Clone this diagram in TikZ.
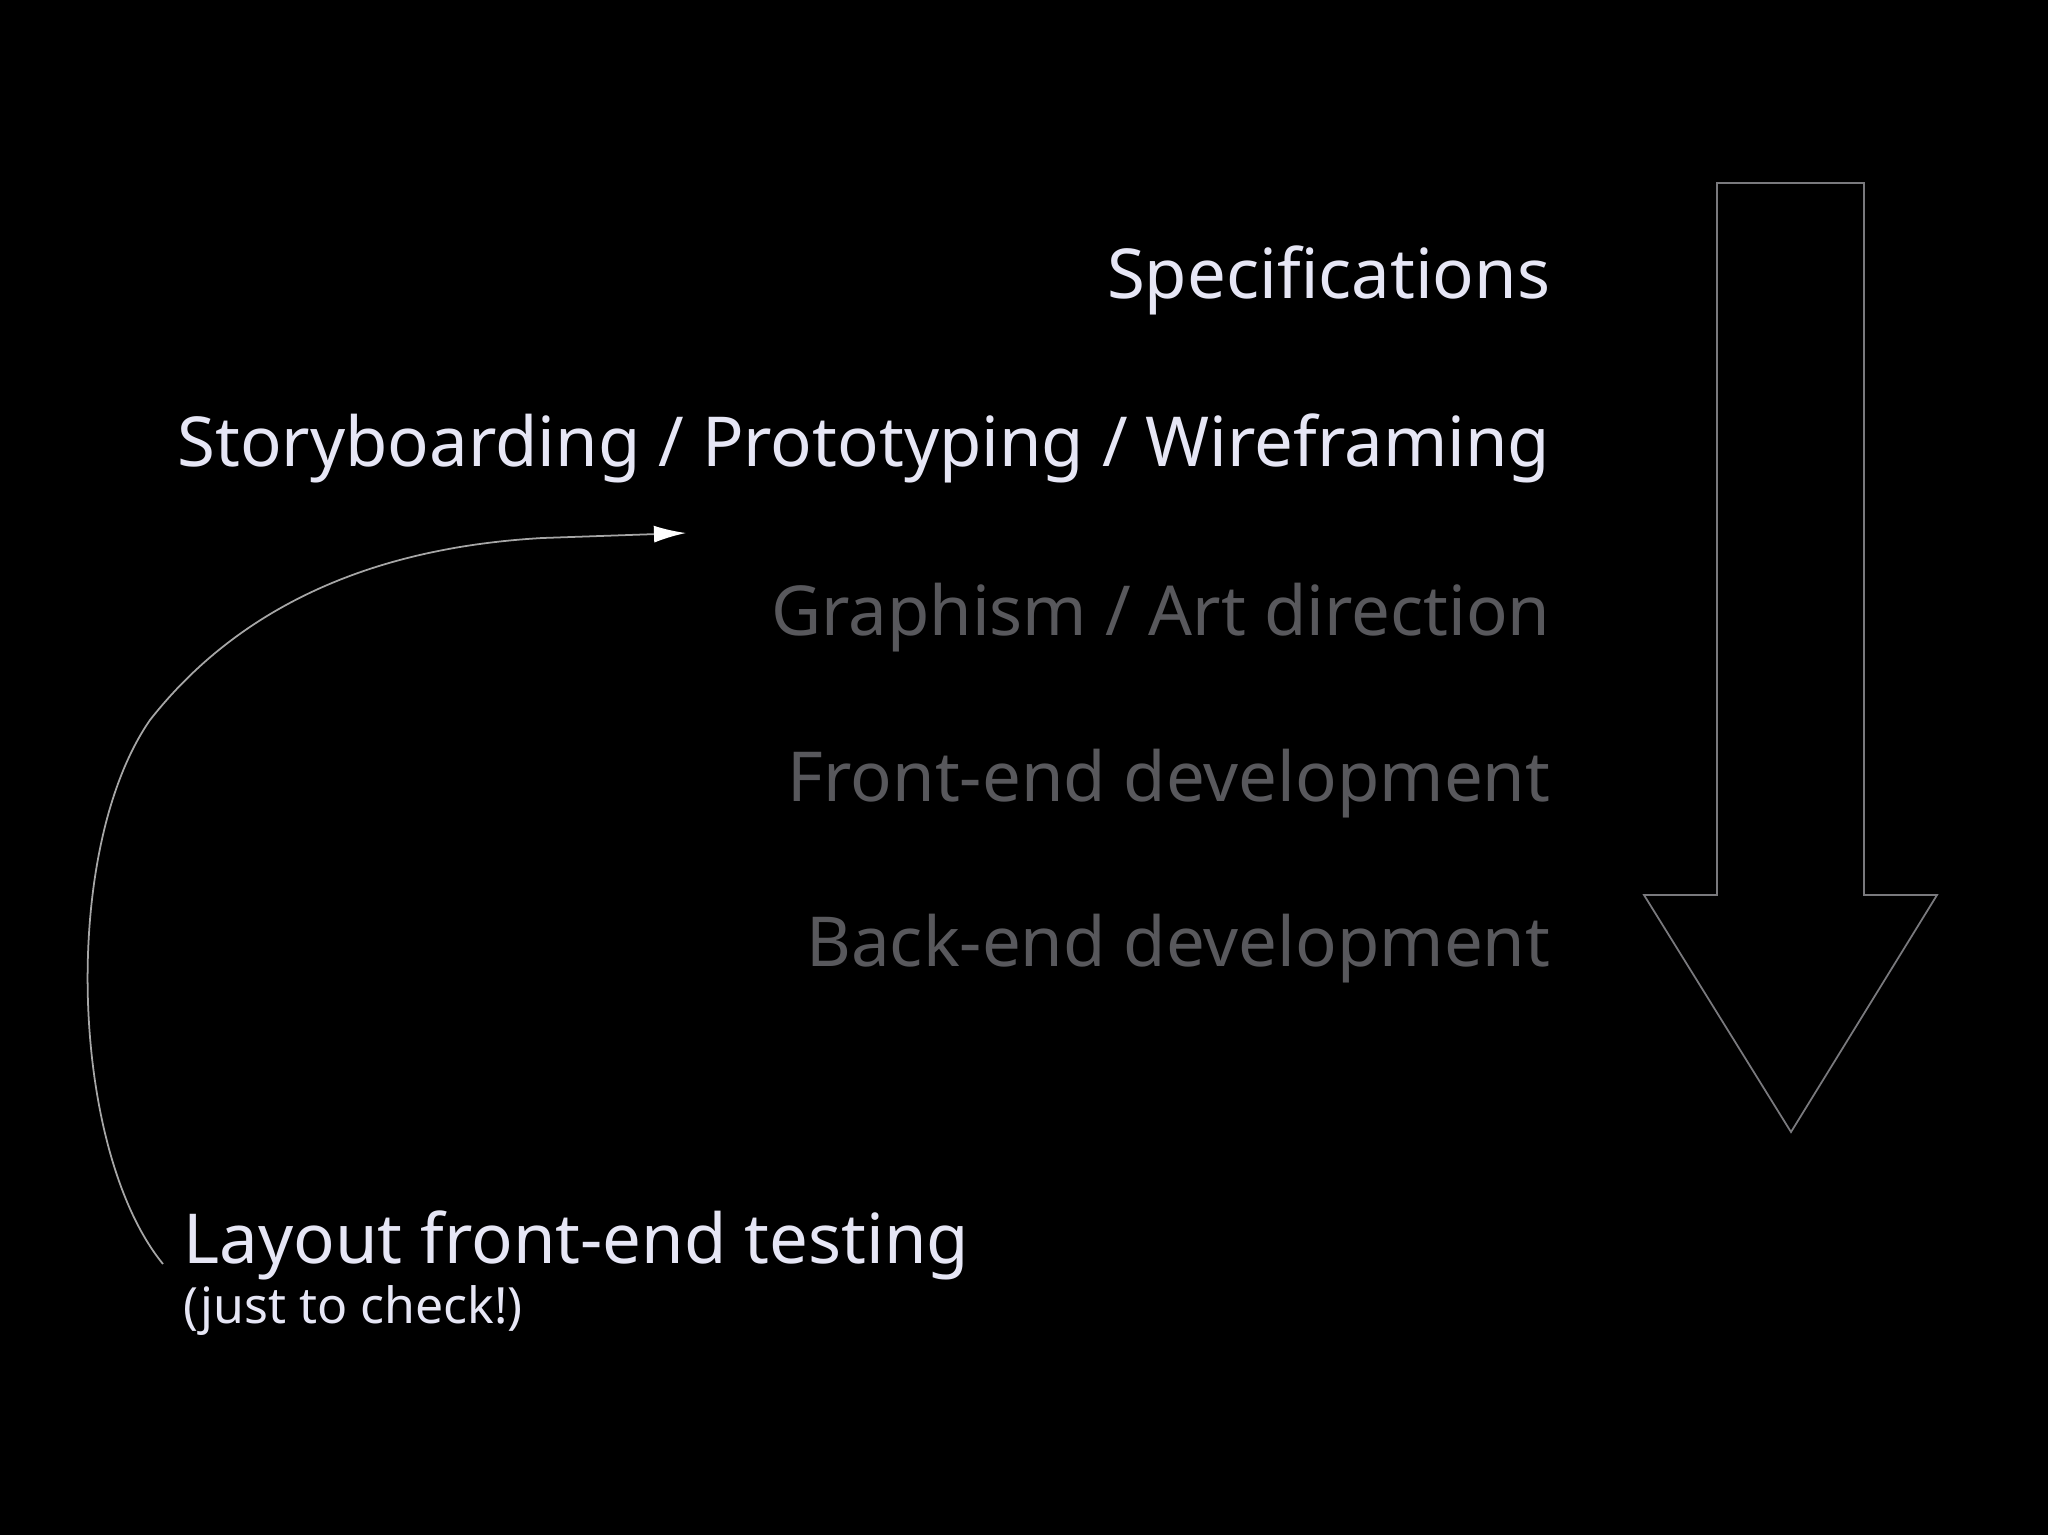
\documentclass[tikz,border=0pt]{standalone}
\usepackage{fontspec}
\setmainfont{Noto Sans}
\usetikzlibrary{arrows.meta}
\definecolor{lite}{HTML}{E6E6F5}
\definecolor{dim}{HTML}{58585C}
\begin{document}
\begin{tikzpicture}[x=0.01cm,y=-0.01cm,
  row/.style={anchor=base east,inner sep=0,font=\fontsize{19.6}{24}\selectfont},
  lbl/.style={anchor=base west,inner sep=0,text=lite},
  outline/.style={draw=dim!80,line width=0.5pt}]
\fill[black] (0,0) rectangle (2048,1535);
\useasboundingbox (0,0) rectangle (2048,1535);
\node[row,text=lite] (spec) at (1551,298) {Specifications};
\node[row,text=lite] (story) at (1551,466) {Storyboarding / Prototyping / Wireframing};
\node[row,text=dim] (graph) at (1551,635) {Graphism / Art direction};
\node[row,text=dim] (front) at (1551,801) {Front-end development};
\node[row,text=dim] (back) at (1551,966) {Back-end development};
\node[lbl,font=\fontsize{19.6}{24}\selectfont] (layout) at (183,1263) {Layout front-end testing};
\node[lbl,font=\fontsize{14.2}{17}\selectfont] (check) at (183,1323) {(just to check!)};
\draw[outline] (1717,183) -- (1864,183) -- (1864,895) -- (1937,895) -- (1791,1132)
  -- (1644,895) -- (1717,895) -- cycle;
\coordinate (cs) at (163,1264);
\coordinate (ce) at (686,533);
\draw[draw=gray!70,line width=0.5pt,-{Latex[length=0.32cm,width=0.17cm,fill=white,color=white]}]
  (cs) .. controls (70,1150) and (60,850) .. (150,720)
  .. controls (260,580) and (420,545) .. (542,538) -- (ce);
\end{tikzpicture}
\end{document}
